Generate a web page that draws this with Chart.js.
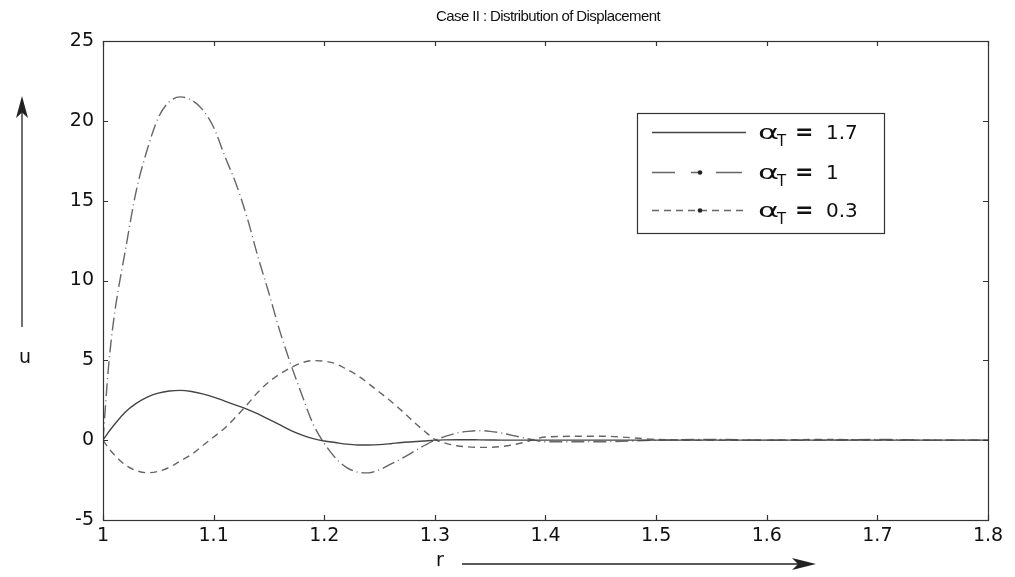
<!DOCTYPE html>
<html><head><meta charset="utf-8">
<script src="https://cdn.jsdelivr.net/npm/chart.js@4.4.1/dist/chart.umd.min.js"></script>
<style>html,body{margin:0;padding:0;background:#fff;}canvas{display:block}</style>
</head><body>
<canvas id="c" width="1015" height="577"></canvas>
<script>
// ---- data ----
const rValues = [1.00, 1.005, 1.01, 1.02, 1.03, 1.04, 1.05, 1.06, 1.07, 1.08, 1.09, 1.10, 1.11, 1.12, 1.13, 1.14, 1.15, 1.16, 1.17, 1.18, 1.19, 1.20, 1.21, 1.22, 1.23, 1.24, 1.25, 1.26, 1.27, 1.28, 1.29, 1.30, 1.31, 1.32, 1.33, 1.34, 1.35, 1.36, 1.37, 1.38, 1.39, 1.40, 1.45, 1.50, 1.55, 1.60, 1.65, 1.70, 1.75, 1.80];
const uAlpha17 = [0, 0.5, 0.95, 1.75, 2.3, 2.7, 2.95, 3.08, 3.12, 3.05, 2.9, 2.7, 2.45, 2.2, 1.95, 1.65, 1.3, 0.95, 0.6, 0.32, 0.1, -0.05, -0.15, -0.25, -0.3, -0.3, -0.28, -0.22, -0.15, -0.1, -0.05, 0, 0.02, 0.03, 0.03, 0.02, 0.01, 0, 0, 0, 0, 0, 0, 0, 0, 0, 0, 0, 0, 0];
const uAlpha1 = [0, 4.6, 7.7, 11.8, 15.6, 18.2, 20.2, 21.2, 21.5, 21.3, 20.7, 19.6, 17.8, 16.1, 14.0, 11.5, 9.2, 6.8, 4.7, 2.8, 1.0, -0.2, -1.1, -1.7, -2.0, -2.05, -1.85, -1.5, -1.15, -0.75, -0.35, 0.0, 0.25, 0.45, 0.55, 0.6, 0.55, 0.45, 0.3, 0.15, 0.0, -0.1, -0.1, 0.0, 0.05, 0.0, 0.0, 0.05, 0.0, 0.0];
const uAlpha03 = [0, -0.5, -0.9, -1.55, -1.9, -2.04, -1.95, -1.7, -1.3, -0.9, -0.35, 0.2, 0.75, 1.45, 2.2, 3.0, 3.65, 4.15, 4.55, 4.85, 4.98, 4.95, 4.8, 4.45, 4.05, 3.55, 3.0, 2.45, 1.85, 1.2, 0.6, 0.05, -0.2, -0.35, -0.42, -0.45, -0.45, -0.4, -0.3, -0.15, 0.05, 0.2, 0.25, 0.05, 0.0, 0.0, 0.05, 0.0, 0.0, 0.0];
const alphaValues = ['1.7', '1', '0.3'];
const chartTitle = 'Case II : Distribution of Displacement';
const xAxisLabel = 'r';
const yAxisLabel = 'u';

const FONT = '"Liberation Sans", Arial, Helvetica, sans-serif';
const WFONT = '"DejaVu Sans", Verdana, sans-serif';
const toPoints = arr => arr.map((u, i) => ({x: rValues[i], y: u}));
const lineStyles = [
  {color: '#444444', dash: []},
  {color: '#666666', dash: [13, 4, 1, 4]},
  {color: '#666666', dash: [7, 5]}
];
const seriesData = [uAlpha17, uAlpha1, uAlpha03];

const datasets = seriesData.map((arr, i) => ({
  label: 'alpha_T = ' + alphaValues[i],
  data: toPoints(arr),
  borderColor: lineStyles[i].color,
  borderDash: lineStyles[i].dash,
  borderWidth: 1.4,
  pointRadius: 0,
  fill: false,
  cubicInterpolationMode: 'monotone'
}));

function arrow(ctx, x1, y1, x2, y2, len, half) {
  const ang = Math.atan2(y2 - y1, x2 - x1);
  ctx.beginPath();
  ctx.moveTo(x1, y1);
  ctx.lineTo(x2 - Math.cos(ang) * len * 0.7, y2 - Math.sin(ang) * len * 0.7);
  ctx.stroke();
  ctx.beginPath();
  ctx.moveTo(x2, y2);
  const bx = x2 - Math.cos(ang) * len, by = y2 - Math.sin(ang) * len;
  const nx = -Math.sin(ang) * half, ny = Math.cos(ang) * half;
  ctx.lineTo(bx + nx, by + ny);
  ctx.lineTo(x2 - Math.cos(ang) * len * 0.75, y2 - Math.sin(ang) * len * 0.75);
  ctx.lineTo(bx - nx, by - ny);
  ctx.closePath();
  ctx.fill();
}

function seg(ctx, x1, x2, y) { ctx.moveTo(x1, y); ctx.lineTo(x2, y); }

const framePlugin = {
  id: 'matlabFrame',
  afterDraw(chart) {
    const {ctx, chartArea: a, scales} = chart;
    const xs = scales.x, ys = scales.y;
    ctx.save();
    ctx.strokeStyle = '#333';
    ctx.lineWidth = 1.2;
    ctx.setLineDash([]);
    ctx.strokeRect(a.left + 0.5, a.top + 0.5, a.right - a.left, a.bottom - a.top);
    const tl = 5;
    ctx.beginPath();
    xs.ticks.forEach(t => {
      const px = Math.round(xs.getPixelForValue(t.value)) + 0.5;
      ctx.moveTo(px, a.bottom); ctx.lineTo(px, a.bottom - tl);
      ctx.moveTo(px, a.top); ctx.lineTo(px, a.top + tl);
    });
    ys.ticks.forEach(t => {
      const py = Math.round(ys.getPixelForValue(t.value)) + 0.5;
      ctx.moveTo(a.left, py); ctx.lineTo(a.left + tl, py);
      ctx.moveTo(a.right, py); ctx.lineTo(a.right - tl, py);
    });
    ctx.stroke();

    // title
    ctx.save();
    ctx.fillStyle = '#111';
    ctx.font = '15px ' + FONT;
    if ('letterSpacing' in ctx) ctx.letterSpacing = '-0.6px';
    ctx.textAlign = 'center';
    ctx.textBaseline = 'middle';
    ctx.fillText(chartTitle, 548, 17);
    ctx.restore();

    // axis labels with arrows
    ctx.fillStyle = '#111';
    ctx.textAlign = 'center';
    ctx.textBaseline = 'middle';
    ctx.font = '19px ' + WFONT;
    ctx.fillText(yAxisLabel, 25, 358);
    ctx.fillText(xAxisLabel, 440, 561);
    ctx.strokeStyle = '#222';
    ctx.fillStyle = '#222';
    ctx.lineWidth = 1.3;
    arrow(ctx, 22, 327, 22, 96, 22, 6);
    arrow(ctx, 462, 564, 816, 564, 24, 6);

    // legend
    const lx = 637, ly = 113, lw = 247, lh = 120;
    ctx.fillStyle = '#fff';
    ctx.fillRect(lx, ly, lw, lh);
    ctx.strokeStyle = '#333';
    ctx.lineWidth = 1.2;
    ctx.strokeRect(lx + 0.5, ly + 0.5, lw, lh);
    const rows = [132, 172, 210];
    rows.forEach((ry, i) => {
      const y = ry + 0.5;
      ctx.save();
      ctx.strokeStyle = lineStyles[i].color;
      ctx.fillStyle = '#222';
      ctx.lineWidth = 1.4;
      ctx.beginPath();
      if (i === 0) {
        seg(ctx, 652, 746, y);
      } else if (i === 1) {
        seg(ctx, 652, 675, y); seg(ctx, 691, 700, y); seg(ctx, 716, 742, y);
      } else {
        for (let x = 652; x < 744; x += 12) seg(ctx, x, Math.min(x + 7, 744), y);
      }
      ctx.stroke();
      if (i > 0) { ctx.beginPath(); ctx.arc(700, y, 2.3, 0, Math.PI * 2); ctx.fill(); }
      ctx.restore();

      ctx.fillStyle = '#111';
      ctx.textAlign = 'left';
      ctx.textBaseline = 'alphabetic';
      ctx.save();
      ctx.font = '20px ' + WFONT;
      ctx.translate(758, y + 6);
      ctx.scale(1.6, 1);
      ctx.fillText('\u03B1', 0, 0);
      ctx.restore();
      ctx.font = '15px ' + WFONT;
      ctx.fillText('T', 777, y + 13);
      ctx.font = 'bold 22px ' + WFONT;
      ctx.fillText('=', 795, y + 6);
      ctx.font = '20px ' + WFONT;
      ctx.fillText(alphaValues[i], 826, y + 6);
    });
    ctx.restore();
  }
};

const fmt = v => String(Number(v.toFixed(1)));

new Chart(document.getElementById('c'), {
  type: 'line',
  data: {datasets},
  options: {
    responsive: false,
    animation: false,
    devicePixelRatio: 1,
    layout: {padding: {left: 0, top: 41, right: 27, bottom: 0}},
    plugins: {legend: {display: false}, tooltip: {enabled: false}, title: {display: false}},
    scales: {
      x: {
        type: 'linear', min: 1, max: 1.8,
        grid: {display: false, drawTicks: false},
        border: {display: false},
        ticks: {stepSize: 0.1, autoSkip: false, maxRotation: 0, padding: 5,
                color: '#111', font: {size: 19, family: WFONT}, callback: v => fmt(v)},
        afterFit: s => { s.height = 57; }
      },
      y: {
        type: 'linear', min: -5, max: 25,
        grid: {display: false, drawTicks: false},
        border: {display: false},
        ticks: {stepSize: 5, padding: 9, color: '#111', font: {size: 19, family: WFONT}},
        afterFit: s => { s.width = 103; }
      }
    }
  },
  plugins: [framePlugin]
});
</script>
</body></html>
